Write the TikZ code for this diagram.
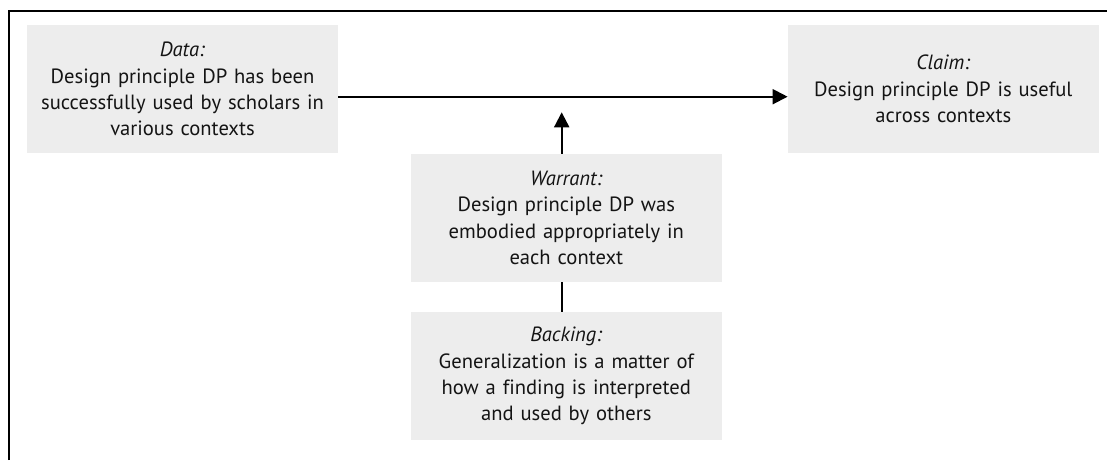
\documentclass[tikz,border=0pt]{standalone}
\usepackage{fontspec}
\setmainfont{PT Sans}[Ligatures={NoCommon,NoRare}]
\usetikzlibrary{arrows.meta}
\definecolor{boxfill}{RGB}{237,237,237}
\definecolor{ink}{RGB}{20,20,20}
\tikzset{
  argbox/.style={rectangle, fill=boxfill, draw=none, inner sep=0pt,
    minimum width=311pt, minimum height=128pt, text width=309pt,
    align=center, text=ink,
    font=\fontsize{20.6pt}{26.3pt}\selectfont},
  link/.style={line width=2pt, draw=black},
  arr/.style={link, -{Triangle[length=15pt,width=15pt]}},
  frameline/.style={line width=2pt, draw=black}
}
\begin{document}
\begin{tikzpicture}[x=1pt, y=-1pt]
  \useasboundingbox (0,0) rectangle (1107,460);
  % open frame: left and top edges
  \draw[frameline] (8.5,460) -- (8.5,10.7) -- (1107,10.7);

  \node[argbox] (data) at (182.5,89)
    {\textit{Data:}\\Design principle DP has been\\successfully used by scholars in\\various contexts};
  \node[argbox] (claim) at (943.3,89)
    {\textit{Claim:}\\Design principle DP is useful\\across contexts};
  \node[argbox] (warrant) at (566.3,218)
    {\textit{Warrant:}\\Design principle DP was\\embodied appropriately in\\each context};
  \node[argbox] (backing) at (566.3,376)
    {\textit{Backing:}\\Generalization is a matter of\\how a finding is interpreted\\and used by others};

  \coordinate (hline) at (0,96.7);
  \coordinate (vtip) at (561.7,112.3);
  \draw[arr] (data.east |- hline) -- (claim.west |- hline);
  \draw[arr] (warrant.north -| vtip) -- (vtip);
  \draw[link] (warrant.south -| vtip) -- (backing.north -| vtip);
\end{tikzpicture}
\end{document}
